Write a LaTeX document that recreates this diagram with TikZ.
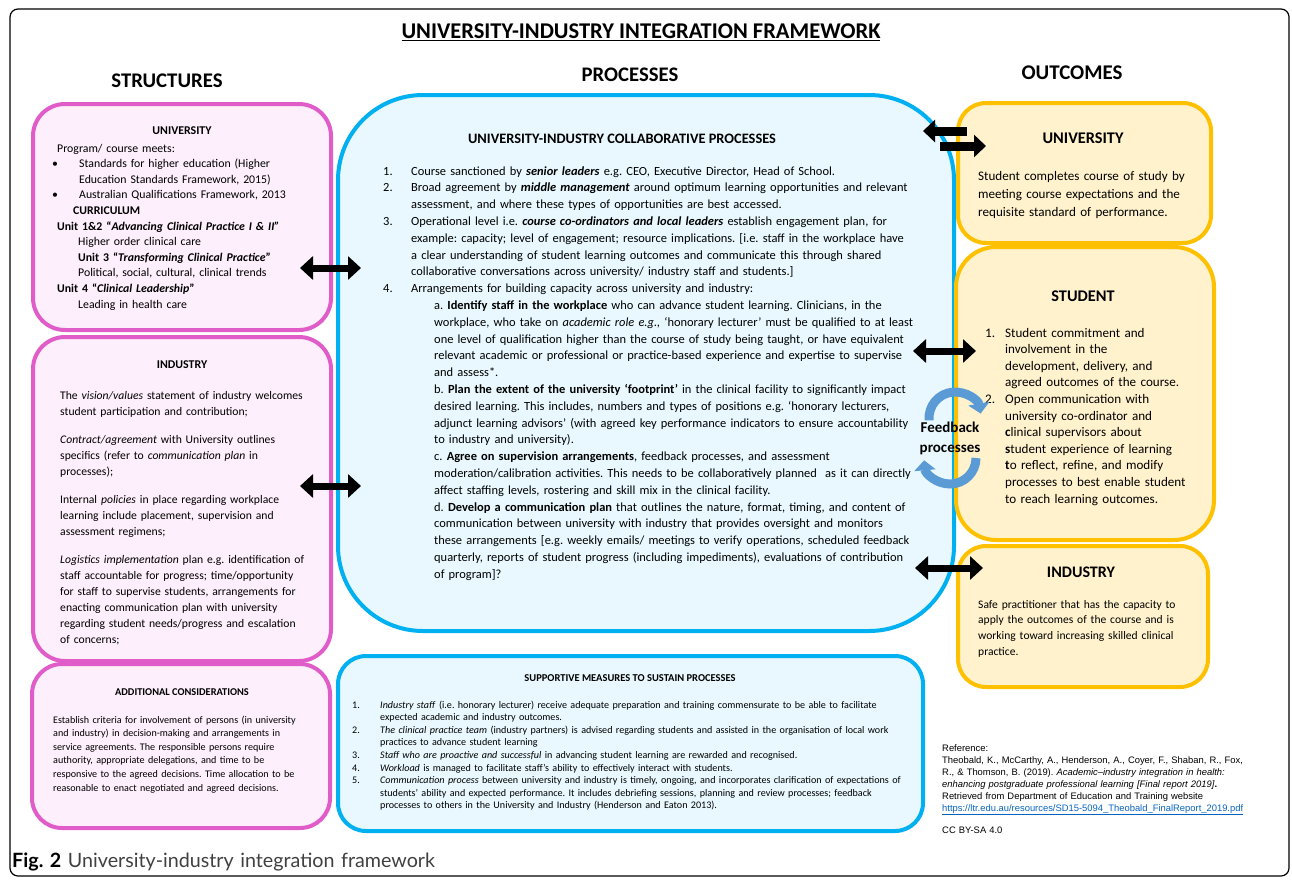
\documentclass[tikz,border=0pt]{standalone}
\usepackage{fontspec}
\setmainfont{Carlito}
\newfontfamily\reffont{Liberation Sans}
\newfontfamily\capfont{Lato}
\usetikzlibrary{positioning,arrows.meta}
\frenchspacing
\definecolor{pinkline}{HTML}{E05CC8}
\definecolor{pinkfill}{HTML}{FDEFFB}
\definecolor{blueline}{HTML}{00B0F0}
\definecolor{bluefill}{HTML}{E8F8FE}
\definecolor{goldline}{HTML}{FFC000}
\definecolor{goldfill}{HTML}{FFF2CC}
\definecolor{fbblue}{HTML}{5B9BD5}
\definecolor{linkblue}{HTML}{0563C1}
\newcommand{\fs}[2]{\fontsize{#1}{#2}\selectfont}
\newcommand{\numl}[2][28pt]{\makebox[#1][l]{#2}}
\newcommand{\indl}[1][28pt]{\hspace*{#1}}
\tikzstyle{pinkbox} = [rectangle, rounded corners=32pt, draw=pinkline, fill=pinkfill, line width=4pt]
\tikzstyle{bluebox} = [rectangle, rounded corners=30pt, draw=blueline, fill=bluefill, line width=4pt]
\tikzstyle{goldbox} = [rectangle, rounded corners=28pt, draw=goldline, fill=goldfill, line width=4pt]
\tikzstyle{txt} = [anchor=base west, inner sep=0pt, align=left, text width=600pt]
\tikzstyle{head} = [inner sep=0pt]
\tikzstyle{dblarrow} = [line width=7pt, {Triangle[width=23pt,length=13pt]}-{Triangle[width=23pt,length=13pt]}]
\tikzstyle{sglarrow} = [line width=9pt, -{Triangle[width=22pt,length=12pt]}]
\tikzstyle{fbarrow} = [line width=9pt, fbblue, -{Triangle[width=21pt,length=10pt]}]
\begin{document}
\begin{tikzpicture}[x=1pt,y=-1pt]
\useasboundingbox (0,0) rectangle (1292,879);
\draw[rounded corners=8pt, line width=1.2pt] (10,9) rectangle (1289,876);
% headings
\node[head, font=\bfseries\fs{22.5}{24}] (title) at (641,32) {\underline{UNIVERSITY-INDUSTRY INTEGRATION FRAMEWORK}};
\node[head, font=\bfseries\fs{20.8}{22}] (hstruct) at (167,81) {STRUCTURES};
\node[head, font=\bfseries\fs{20.7}{22}] (hproc) at (630,75) {PROCESSES};
\node[head, font=\bfseries\fs{20.9}{22}] (hout) at (1072,73) {OUTCOMES};
% boxes
\node[pinkbox, minimum width=298pt, minimum height=226pt] (suni) at (182,217) {};
\node[pinkbox, minimum width=298pt, minimum height=324pt] (sind) at (182,499) {};
\node[pinkbox, minimum width=298pt, minimum height=164pt, rounded corners=30pt] (sadd) at (181,746) {};
\node[bluebox, minimum width=616pt, minimum height=536pt, rounded corners=85pt] (pcol) at (646,363) {};
\node[bluebox, minimum width=585pt, minimum height=175pt, rounded corners=28pt] (psup) at (630.5,743.5) {};
\node[goldbox, minimum width=253pt, minimum height=140pt] (ouni) at (1084.5,173) {};
\node[goldbox, minimum width=258pt, minimum height=293pt, rounded corners=40pt] (ostu) at (1085,393.5) {};
\node[goldbox, minimum width=250pt, minimum height=141pt] (oind) at (1083,616.5) {};
% structures
\node[head, font=\bfseries\fs{11.9}{13}] (suniH) at (182,131) {UNIVERSITY};
\node[txt, font=\fs{11.8}{15.6}] (suniT) at (52,152) {%
\indl[5pt]Program/ course meets:\\
\numl[27pt]{\textbullet}Standards for higher education (Higher\\
\indl[27pt]Education Standards Framework, 2015)\\
\numl[27pt]{\textbullet}Australian Qualifications Framework, 2013\\
\indl[21pt]\textbf{CURRICULUM}\\
\indl[5pt]\textbf{Unit 1\&2 “\textit{Advancing Clinical Practice I \& II”}}\\
\indl[26pt]Higher order clinical care\\
\indl[26pt]\textbf{Unit 3 “\textit{Transforming Clinical Practice}”}\\
\indl[26pt]Political, social, cultural, clinical trends\\
\indl[5pt]\textbf{Unit 4 “\textit{Clinical Leadership}”}\\
\indl[26pt]Leading in health care};
\node[head, font=\bfseries\fs{11.9}{13}] (sindH) at (182,365) {INDUSTRY};
\node[txt, font=\fs{11.65}{16}] (sindT) at (60,399) {%
The \textit{vision/values} statement of industry welcomes\\
student participation and contribution;\\[12pt]
\textit{Contract/agreement} with University outlines\\
specifics (refer to \textit{communication plan} in\\
processes);\\[12pt]
Internal \textit{policies} in place regarding workplace\\
learning include placement, supervision and\\
assessment regimens;\\[12pt]
\textit{Logistics implementation} plan e.g. identification of\\
staff accountable for progress; time/opportunity\\
for staff to supervise students, arrangements for\\
enacting communication plan with university\\
regarding student needs/progress and escalation\\
of concerns;};
\node[head, font=\bfseries\fs{10.4}{12}] (saddH) at (182,692) {ADDITIONAL CONSIDERATIONS};
\node[txt, font=\fs{10.1}{13.6}] (saddT) at (53,723) {%
Establish criteria for involvement of persons (in university\\
and industry) in decision-making and arrangements in\\
service agreements. The responsible persons require\\
authority, appropriate delegations, and time to be\\
responsive to the agreed decisions. Time allocation to be\\
reasonable to enact negotiated and agreed decisions.};
% processes
\node[head, font=\bfseries\fs{14.4}{16}] (pcolH) at (622,139) {UNIVERSITY-INDUSTRY COLLABORATIVE PROCESSES};
\node[txt, font=\fs{12.45}{16.8}] (pcolT) at (383,175) {%
\numl{1.}Course sanctioned by \textbf{\textit{senior leaders}} e.g. CEO, Executive Director, Head of School.\\
\numl{2.}Broad agreement by \textbf{\textit{middle management}} around optimum learning opportunities and relevant\\
\indl assessment, and where these types of opportunities are best accessed.\\
\numl{3.}Operational level i.e. \textbf{\textit{course co-ordinators and local leaders}} establish engagement plan, for\\
\indl example: capacity; level of engagement; resource implications. [i.e. staff in the workplace have\\
\indl a clear understanding of student learning outcomes and communicate this through shared\\
\indl collaborative conversations across university/ industry staff and students.]\\
\numl{4.}Arrangements for building capacity across university and industry:\\
\indl[51pt]a. \textbf{Identify staff in the workplace} who can advance student learning. Clinicians, in the\\
\indl[51pt]workplace, who take on \textit{academic role e.g.,} ‘honorary lecturer’ must be qualified to at least\\
\indl[51pt]one level of qualification higher than the course of study being taught, or have equivalent\\
\indl[51pt]relevant academic or professional or practice-based experience and expertise to supervise\\
\indl[51pt]and assess*.\\
\indl[51pt]b. \textbf{Plan the extent of the university ‘footprint’} in the clinical facility to significantly impact\\
\indl[51pt]desired learning. This includes, numbers and types of positions e.g. ‘honorary lecturers,\\
\indl[51pt]adjunct learning advisors’ (with agreed key performance indicators to ensure accountability\\
\indl[51pt]to industry and university).\\
\indl[51pt]c. \textbf{Agree on supervision arrangements}, feedback processes, and assessment\\
\indl[51pt]moderation/calibration activities. This needs to be collaboratively planned\ \ as it can directly\\
\indl[51pt]affect staffing levels, rostering and skill mix in the clinical facility.\\
\indl[51pt]d. \textbf{Develop a communication plan} that outlines the nature, format, timing, and content of\\
\indl[51pt]communication between university with industry that provides oversight and monitors\\
\indl[51pt]these arrangements [e.g. weekly emails/ meetings to verify operations, scheduled feedback\\
\indl[51pt]quarterly, reports of student progress (including impediments), evaluations of contribution\\
\indl[51pt]of program]?};
\node[head, font=\bfseries\fs{10.5}{12}] (psupH) at (630,678) {SUPPORTIVE MEASURES TO SUSTAIN PROCESSES};
\node[txt, font=\fs{10.1}{12.6}] (psupT) at (352,708) {%
\numl{1.}\textit{Industry staff} (i.e. honorary lecturer) receive adequate preparation and training commensurate to be able to facilitate\\
\indl expected academic and industry outcomes.\\
\numl{2.}\textit{The clinical practice team} (industry partners) is advised regarding students and assisted in the organisation of local work\\
\indl practices to advance student learning\\
\numl{3.}\textit{Staff who are proactive and successful} in advancing student learning are rewarded and recognised.\\
\numl{4.}\textit{Workload} is managed to facilitate staff’s ability to effectively interact with students.\\
\numl{5.}\textit{Communication process} between university and industry is timely, ongoing, and incorporates clarification of expectations of\\
\indl students’ ability and expected performance. It includes debriefing sessions, planning and review processes; feedback\\
\indl processes to others in the University and Industry (Henderson and Eaton 2013).};
% outcomes
\node[head, font=\bfseries\fs{16.3}{18}] (ouniH) at (1083,138) {UNIVERSITY};
\node[txt, font=\fs{13.1}{18}] (ouniT) at (978,180) {%
Student completes course of study by\\
meeting course expectations and the\\
requisite standard of performance.};
\node[head, font=\bfseries\fs{16.3}{18}] (ostuH) at (1083,296) {STUDENT};
\node[txt, font=\fs{13.1}{16.6}] (ostuT) at (985,337) {%
\numl[20pt]{1.}Student commitment and\\
\indl[20pt]involvement in the\\
\indl[20pt]development, delivery, and\\
\indl[20pt]agreed outcomes of the course.\\
\numl[20pt]{2.}Open communication with\\
\indl[20pt]university co-ordinator and\\
\indl[20pt]\textbf{c}linical supervisors about\\
\indl[20pt]\textbf{s}tudent experience of learning\\
\indl[20pt]\textbf{t}o reflect, refine, and modify\\
\indl[20pt]processes to best enable student\\
\indl[20pt]to reach learning outcomes.};
\node[head, font=\bfseries\fs{16.1}{18}] (oindH) at (1081,572) {INDUSTRY};
\node[txt, font=\fs{11.55}{15.7}] (oindT) at (978,608) {%
Safe practitioner that has the capacity to\\
apply the outcomes of the course and is\\
working toward increasing skilled clinical\\
practice.};
% arrows between columns
\coordinate (a1l) at (300,268); \coordinate (a1r) at (361,268);
\coordinate (a2l) at (300,486); \coordinate (a2r) at (361,486);
\coordinate (a3l) at (913,351); \coordinate (a3r) at (976,351);
\coordinate (a4l) at (915,568); \coordinate (a4r) at (983,568);
\draw[dblarrow] (a1l) -- (a1r);
\draw[dblarrow] (a2l) -- (a2r);
\draw[dblarrow] (a3l) -- (a3r);
\draw[dblarrow] (a4l) -- (a4r);
\coordinate (u1s) at (967,131); \coordinate (u1e) at (923,131);
\coordinate (u2s) at (940,146); \coordinate (u2e) at (986,146);
\draw[sglarrow] (u1s) -- (u1e);
\draw[sglarrow] (u2s) -- (u2e);
% feedback loop
\coordinate (fbtop) at (929.1,420.3);
\coordinate (fbbot) at (976,458);
\draw[fbarrow] (fbtop) arc[start angle=175, end angle=350, radius=26];
\draw[fbarrow] (fbbot) arc[start angle=0, end angle=175, radius=26];
\node[head, font=\bfseries\fs{15}{20}, align=center] (fbtxt) at (950,438) {Feedback\\processes};
% reference
\node[txt, font=\reffont\fs{9.4}{12}] (refT) at (942,751) {%
Reference:\\
Theobald, K., McCarthy, A., Henderson, A., Coyer, F., Shaban, R., Fox,\\
R., \& Thomson, B. (2019). \textit{Academic–industry integration in health:}\\
\textit{enhancing postgraduate professional learning [Final report 2019]}\textbf{.}\\
Retrieved from Department of Education and Training website\\
\textcolor{linkblue}{\underline{https://ltr.edu.au/resources/SD15-5094\_Theobald\_FinalReport\_2019.pdf}}};
\node[txt, font=\reffont\fs{9.4}{12}] (ccT) at (942,833) {CC BY-SA 4.0};
% caption
\node[txt, font=\capfont\fs{19.7}{22}, text=black!75] (capT) at (12,867) {\textbf{\color{black}Fig. 2} University-industry integration framework};
\end{tikzpicture}
\end{document}
